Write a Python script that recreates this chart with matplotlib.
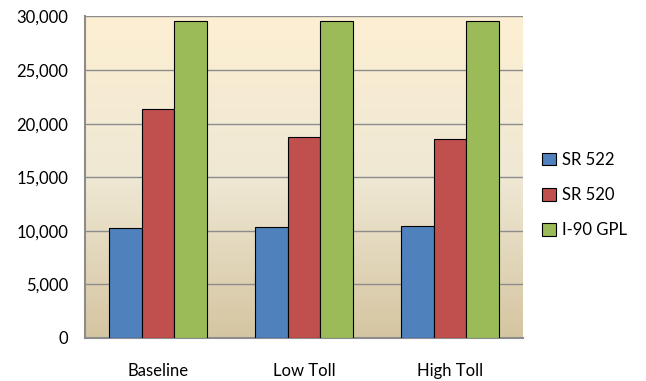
import numpy as np
import matplotlib.pyplot as plt
from matplotlib.colors import LinearSegmentedColormap
from matplotlib.ticker import FuncFormatter

plt.rcParams['font.family'] = ['Lato', 'DejaVu Sans']

scenarios = ['Baseline', 'Low Toll', 'High Toll']
series_names = ['SR 522', 'SR 520', 'I-90 GPL']
sr522 = [10230, 10330, 10420]
sr520 = [21330, 18780, 18600]
i90_gpl = [29600, 29600, 29600]
colors = ['#4f81bd', '#c0504d', '#9bbb59']

fig = plt.figure(figsize=(6.46, 3.81), dpi=100)
ax = fig.add_axes([0.1316, 0.1129, 0.6780, 0.8438])

# gradient background of the plot area
bg = LinearSegmentedColormap.from_list('bg', ['#d5c5a1', '#efe8d4', '#fdefd2'])
grad = np.linspace(0, 1, 256).reshape(-1, 1)
ax.imshow(grad, cmap=bg, aspect='auto', origin='lower',
          extent=[-0.5, 2.5, 0, 30000], zorder=0)

x = np.arange(len(scenarios))
w = 1 / 4.5
for i, vals in enumerate([sr522, sr520, i90_gpl]):
    ax.bar(x + (i - 1) * w, vals, w, color=colors[i], edgecolor='black',
           linewidth=0.8, label=series_names[i], zorder=3)

ax.set_xlim(-0.5, 2.5)
ax.set_ylim(0, 30000)
ax.set_yticks(range(0, 30001, 5000))
ax.yaxis.set_major_formatter(FuncFormatter(lambda v, p: f'{int(v):,}'))
ax.grid(axis='y', color='#8c8c8c', linewidth=1, zorder=1)
ax.set_xticks(x)
ax.set_xticklabels(scenarios)
ax.tick_params(axis='both', length=0, labelsize=12)
ax.tick_params(axis='x', pad=18)
ax.tick_params(axis='y', pad=12)
for s in ['top', 'right']:
    ax.spines[s].set_visible(False)
for s in ['left', 'bottom']:
    ax.spines[s].set_color('#8c8c8c')
    ax.spines[s].set_linewidth(1.5)

ax.legend(loc='center left', bbox_to_anchor=(1.01, 0.445), frameon=False,
          fontsize=12, handlelength=0.8, handleheight=0.8, handletextpad=0.4,
          labelspacing=1.15)

fig.savefig('out.png', dpi=100)
